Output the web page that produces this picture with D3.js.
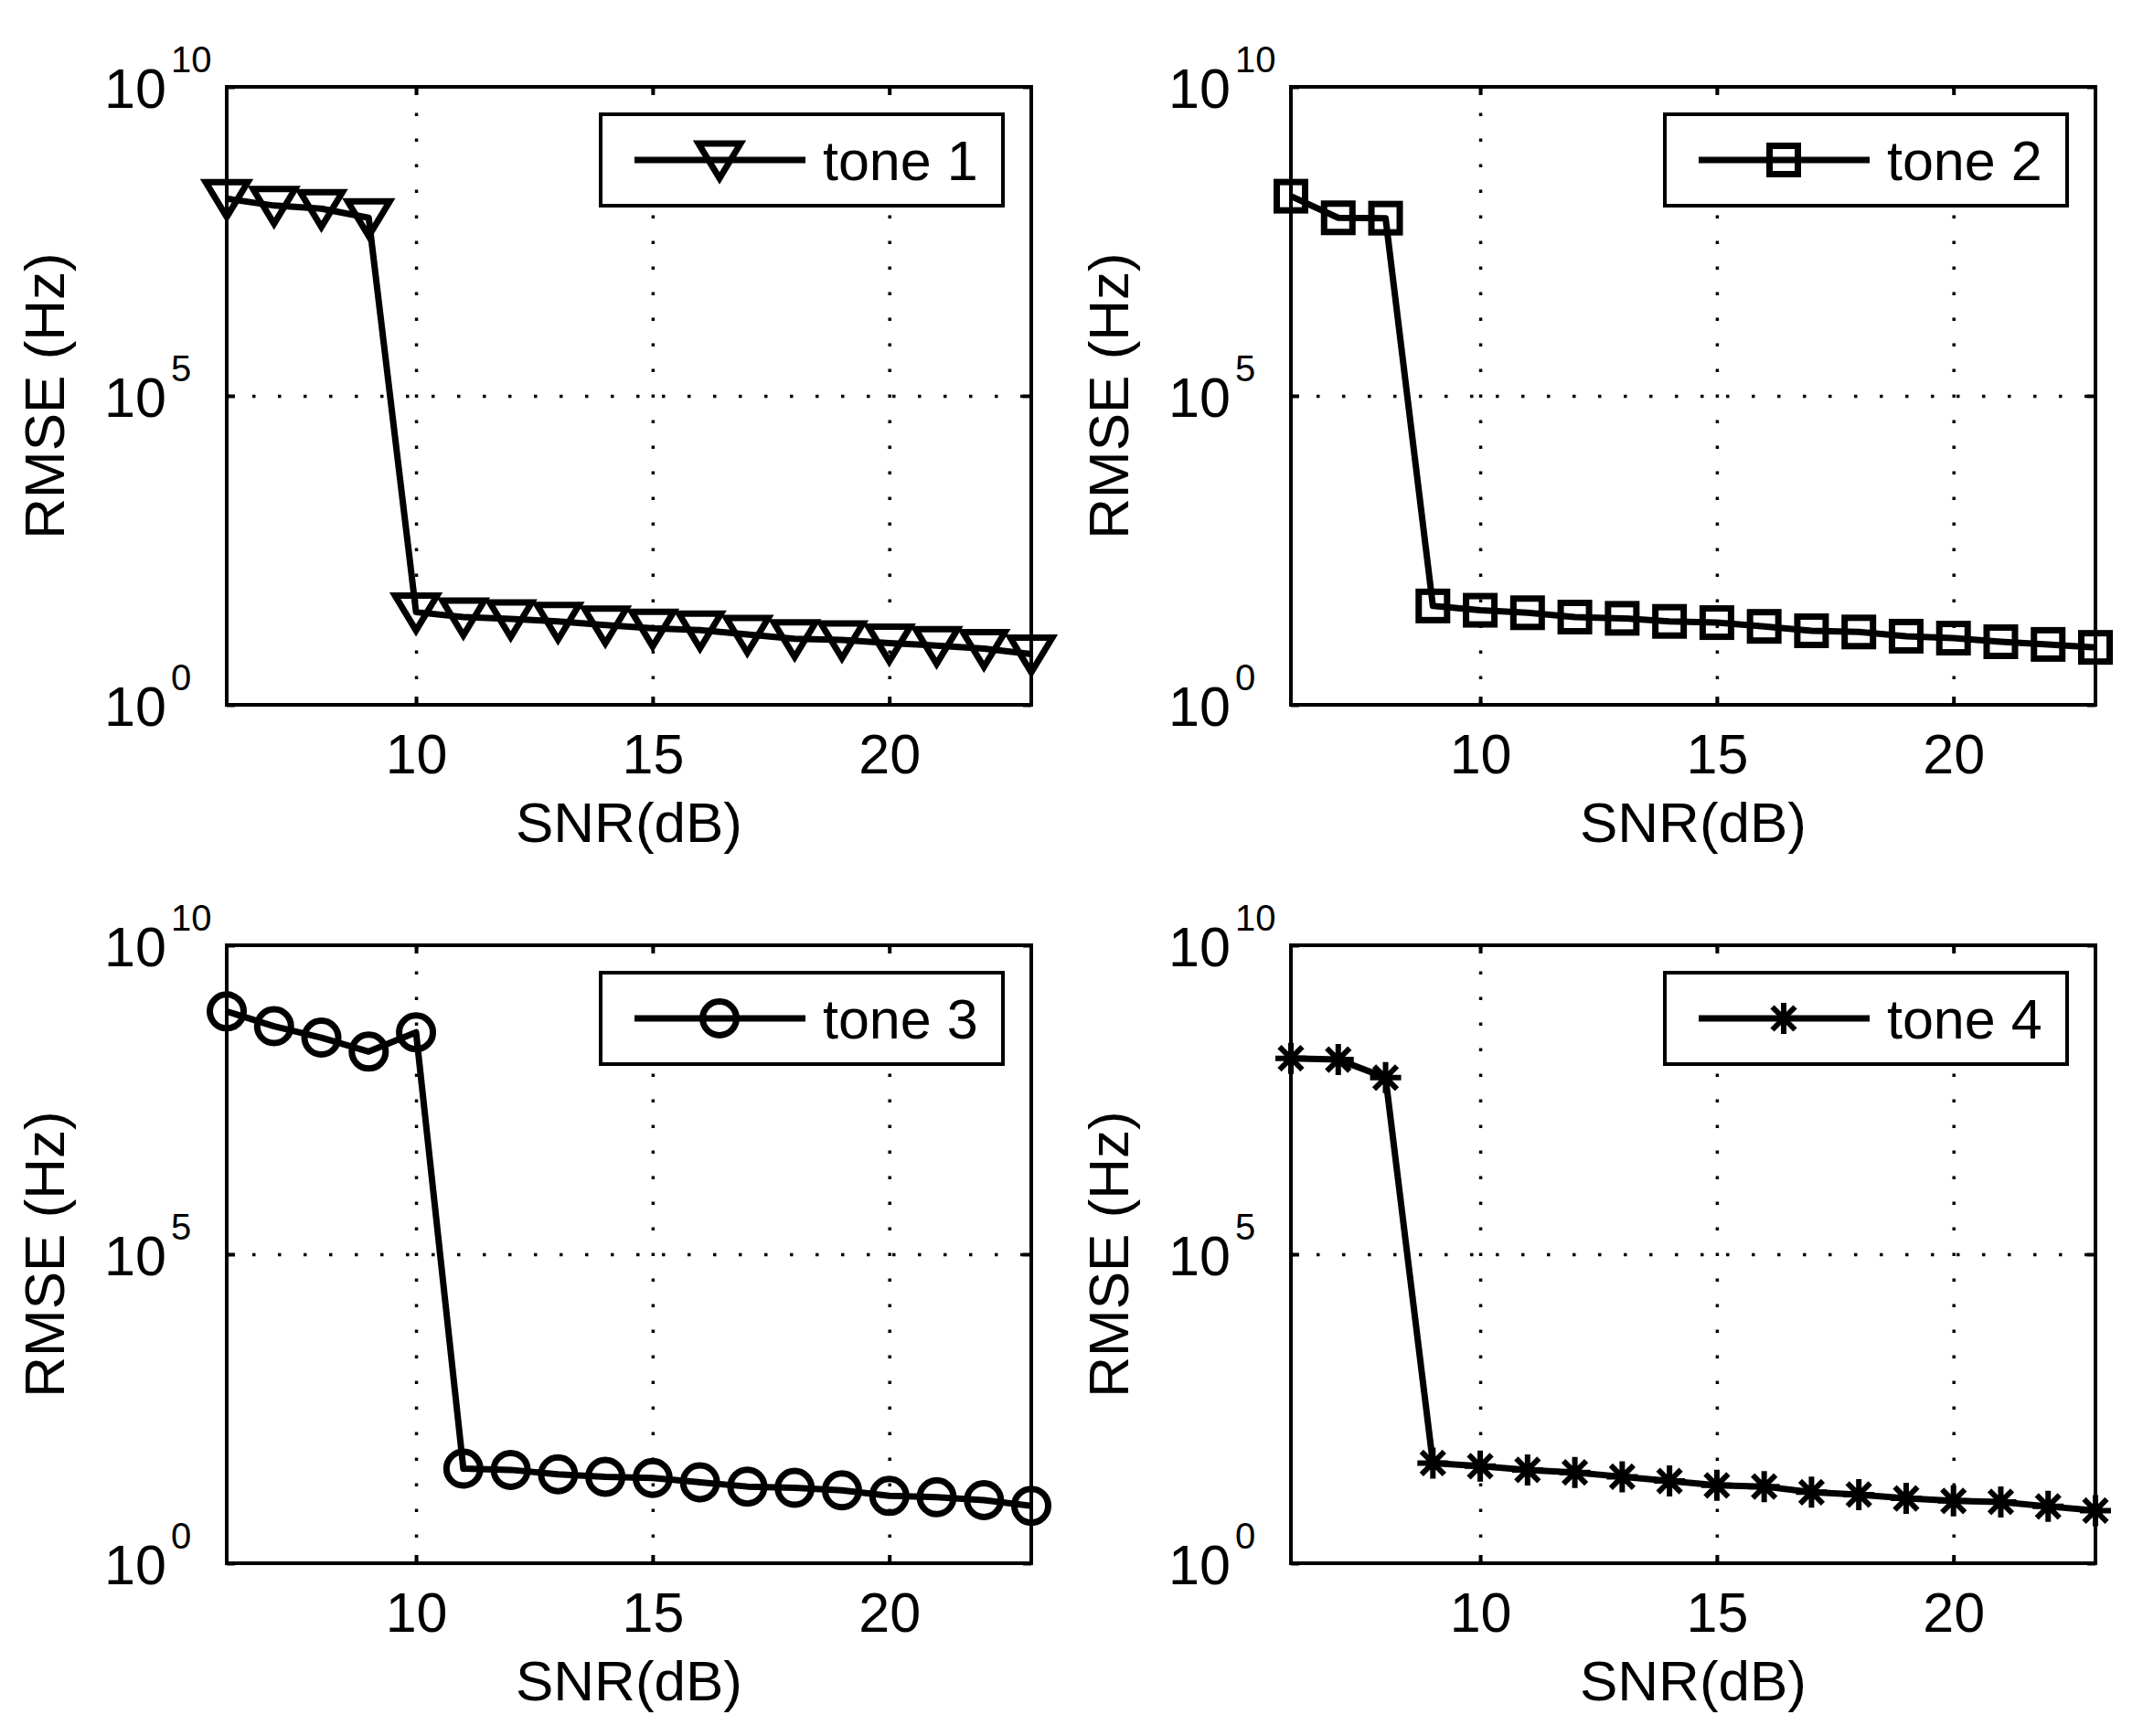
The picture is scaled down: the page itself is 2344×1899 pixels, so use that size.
<!DOCTYPE html>
<html>
<head>
<meta charset="utf-8">
<script src="https://cdn.jsdelivr.net/npm/d3@7"></script>
<style>
  body { margin: 0; background: #fff; }
  text { font-family: "Liberation Sans", Arial, Helvetica, sans-serif; fill: #000; }
</style>
</head>
<body>
<div id="chart"></div>
<script>
// SNR axis (dB)
var snr = [6, 7, 8, 9, 10, 11, 12, 13, 14, 15, 16, 17, 18, 19, 20, 21, 22, 23];

// RMSE (Hz) per tone
var tone1 = [1.55e8, 1.2e8, 1.07e8, 7.6e7, 31.6, 26.3, 24.5, 22.4, 19.5, 17.4, 16.2, 13.8, 11.7, 11.2, 10.0, 9.1, 8.1, 6.6];
var tone2 = [1.7e8, 7.6e7, 7.5e7, 39.8, 33.9, 30.9, 26.3, 25.1, 22.4, 21.4, 18.6, 15.8, 15.1, 12.9, 12.0, 10.5, 9.5, 8.5];
var tone3 = [8.5e8, 4.9e8, 3.2e8, 1.9e8, 3.9e8, 33.9, 32.4, 27.5, 25.1, 24.0, 20.4, 17.4, 16.6, 15.1, 12.3, 11.7, 10.5, 8.5];
var tone4 = [1.48e8, 1.41e8, 7.2e7, 41.7, 37.2, 32.4, 29.5, 25.1, 21.4, 18.2, 17.4, 14.1, 12.9, 11.2, 10.2, 9.8, 8.3, 7.1];

var names = ["tone 1", "tone 2", "tone 3", "tone 4"];
var markers = ["triangle", "square", "circle", "star"];

var xTicks = [10, 15, 20];
var yTicks = [1, 1e5, 1e10];
var yExp = ["0", "5", "10"];

var xLabel = "SNR(dB)";
var yLabel = "RMSE (Hz)";

var W = 2344, H = 1899;
var pw = 880, ph = 676;
var lefts = [248, 1412];
var tops = [95, 1034];

var svg = d3.select("#chart").append("svg")
    .attr("width", W)
    .attr("height", H);

svg.append("rect").attr("width", W).attr("height", H).attr("fill", "#fff");

function drawMarker(g, type, cx, cy) {
    var m;
    if (type === "triangle") {
        m = g.append("path")
            .attr("d", "M-23,-18L23,-18L0,20Z")
            .attr("fill", "none");
    } else if (type === "square") {
        m = g.append("rect")
            .attr("x", -15.5).attr("y", -15.5)
            .attr("width", 31).attr("height", 31)
            .attr("fill", "none");
    } else if (type === "circle") {
        m = g.append("circle")
            .attr("r", 18.5)
            .attr("fill", "none");
    } else {
        m = g.append("path")
            .attr("d", "M0,-17L0,17M-17,0L17,0M-12.5,-12.5L12.5,12.5M-12.5,12.5L12.5,-12.5")
            .attr("fill", "none");
    }
    m.attr("transform", "translate(" + cx + "," + cy + ")")
        .attr("stroke", "#000")
        .attr("stroke-width", type === "star" ? 6 : 7);
}

function panel(idx, series) {
    var x0 = lefts[idx % 2], y0 = tops[Math.floor(idx / 2)];
    var g = svg.append("g").attr("transform", "translate(" + x0 + "," + y0 + ")");

    var x = d3.scaleLinear().domain([6, 23]).range([0, pw]);
    var y = d3.scaleLog().domain([1, 1e10]).range([ph, 0]);

    // dotted grid
    g.append("g")
        .attr("transform", "translate(0," + ph + ")")
        .call(d3.axisBottom(x).tickValues(xTicks).tickSize(-ph).tickFormat(""))
        .call(function(a) {
            a.select(".domain").remove();
            a.selectAll("line").attr("stroke", "#000").attr("stroke-width", 3.5).attr("stroke-dasharray", "3.5,24.5");
        });
    g.append("g")
        .call(d3.axisLeft(y).tickValues([1e5]).tickSize(-pw).tickFormat(""))
        .call(function(a) {
            a.select(".domain").remove();
            a.selectAll("line").attr("stroke", "#000").attr("stroke-width", 3.5).attr("stroke-dasharray", "3.5,24.5");
        });

    // ticks and labels
    var xa = g.append("g")
        .attr("transform", "translate(0," + ph + ")")
        .call(d3.axisBottom(x).tickValues(xTicks).tickSizeInner(-9).tickSizeOuter(0).tickPadding(32));
    xa.select(".domain").remove();
    xa.selectAll("line").attr("stroke", "#000").attr("stroke-width", 4);
    xa.selectAll("text").attr("font-size", 61).attr("font-family", null);

    var xt = g.append("g")
        .call(d3.axisTop(x).tickValues(xTicks).tickSizeInner(-9).tickSizeOuter(0).tickFormat(""));
    xt.select(".domain").remove();
    xt.selectAll("line").attr("stroke", "#000").attr("stroke-width", 4);

    var ya = g.append("g")
        .call(d3.axisLeft(y).tickValues(yTicks).tickSizeInner(-9).tickSizeOuter(0).tickFormat(""));
    ya.select(".domain").remove();
    ya.selectAll("line").attr("stroke", "#000").attr("stroke-width", 4);
    ya.selectAll(".tick").each(function(d, i) {
        var t = d3.select(this);
        t.append("text").attr("x", -134).attr("y", 22)
            .attr("text-anchor", "start").attr("font-size", 61).text("10");
        t.append("text").attr("x", -61).attr("y", -17)
            .attr("text-anchor", "start").attr("font-size", 40).text(yExp[i]);
    });

    var yr = g.append("g")
        .attr("transform", "translate(" + pw + ",0)")
        .call(d3.axisRight(y).tickValues(yTicks).tickSizeInner(-9).tickSizeOuter(0).tickFormat(""));
    yr.select(".domain").remove();
    yr.selectAll("line").attr("stroke", "#000").attr("stroke-width", 4);

    // frame
    g.append("rect").attr("width", pw).attr("height", ph)
        .attr("fill", "none").attr("stroke", "#000").attr("stroke-width", 4);

    // axis titles
    g.append("text")
        .attr("x", pw / 2).attr("y", ph + 150)
        .attr("text-anchor", "middle").attr("font-size", 62)
        .text(xLabel);
    g.append("text")
        .attr("transform", "translate(-178," + (ph / 2) + ") rotate(-90)")
        .attr("text-anchor", "middle").attr("font-size", 62)
        .text(yLabel);

    // data
    var pts = snr.map(function(s, i) { return [x(s), y(series[i])]; });
    g.append("path")
        .attr("d", d3.line()(pts))
        .attr("fill", "none").attr("stroke", "#000")
        .attr("stroke-width", 7).attr("stroke-linejoin", "round");
    pts.forEach(function(p) { drawMarker(g, markers[idx], p[0], p[1]); });

    // legend
    var lx = pw - 31 - 440, ly = 30;
    var lg = g.append("g").attr("transform", "translate(" + lx + "," + ly + ")");
    lg.append("rect").attr("width", 440).attr("height", 100)
        .attr("fill", "#fff").attr("stroke", "#000").attr("stroke-width", 4);
    lg.append("line").attr("x1", 37).attr("x2", 224).attr("y1", 50).attr("y2", 50)
        .attr("stroke", "#000").attr("stroke-width", 7);
    drawMarker(lg, markers[idx], 130, 50);
    lg.append("text").attr("x", 243).attr("y", 72).attr("font-size", 61).text(names[idx]);
}

panel(0, tone1);
panel(1, tone2);
panel(2, tone3);
panel(3, tone4);
</script>
</body>
</html>
